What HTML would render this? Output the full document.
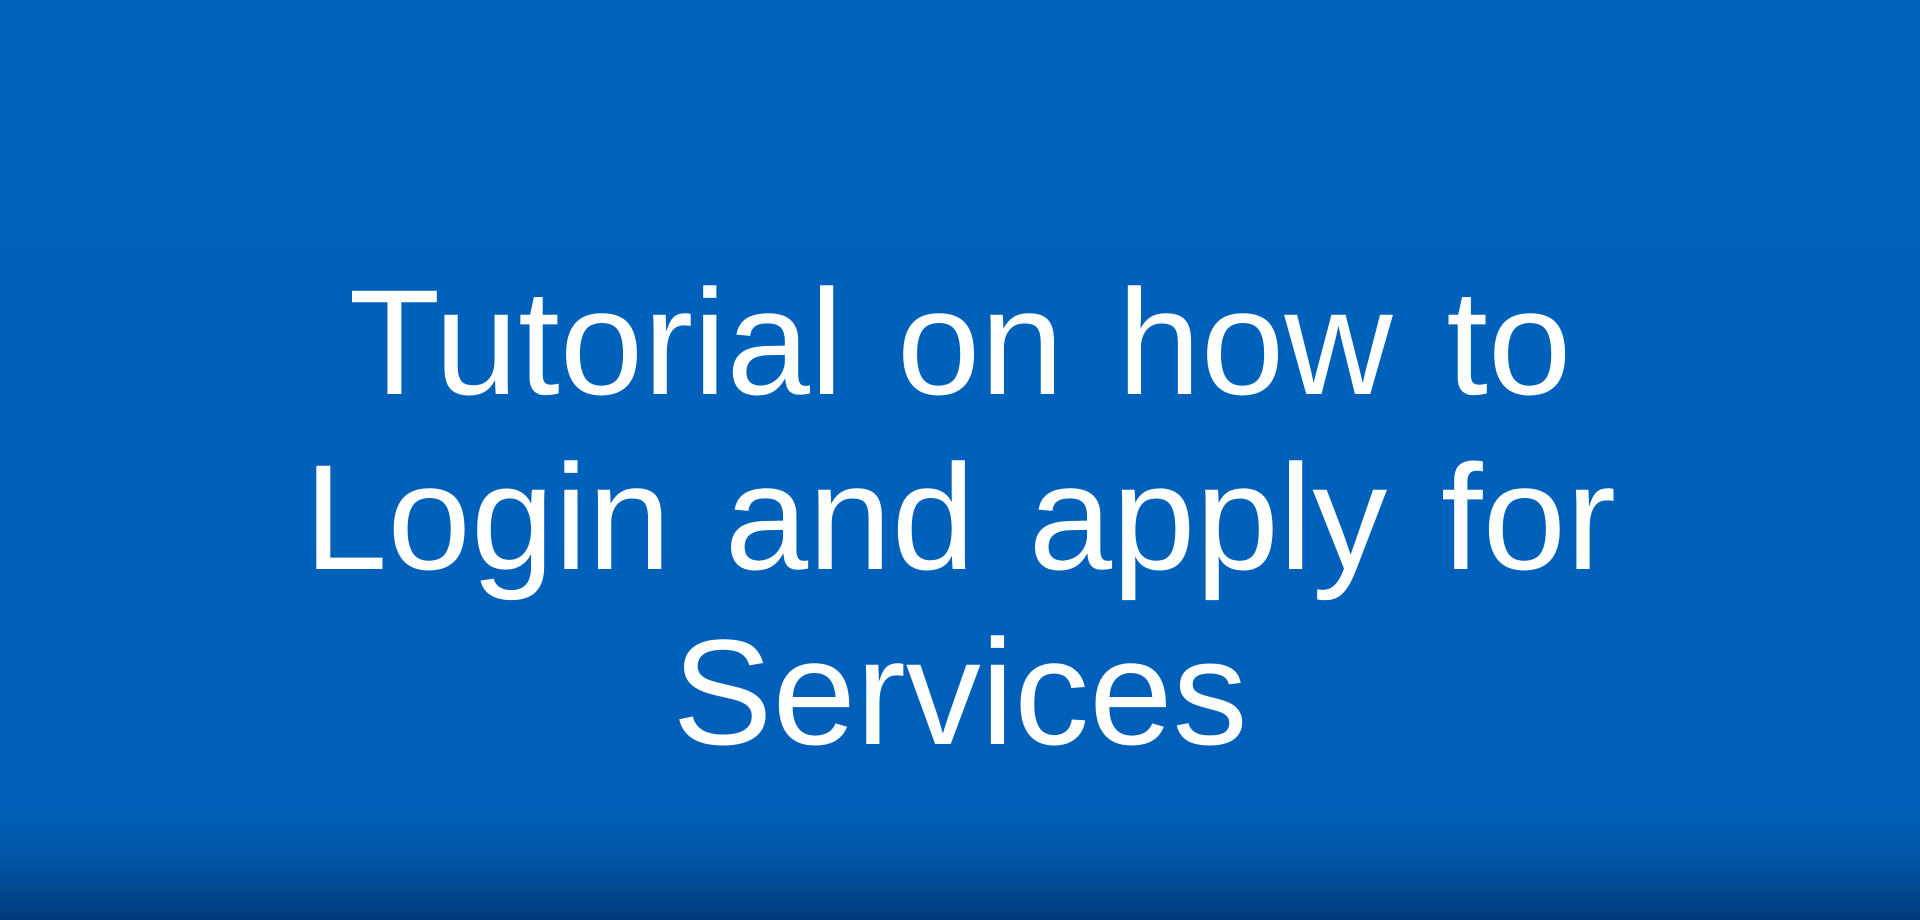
<!DOCTYPE html>
<html><head><meta charset="utf-8"><style>
html,body{margin:0;padding:0;}
body{width:1920px;height:920px;overflow:hidden;position:relative;
background:linear-gradient(to bottom,#0062bb 0px,#0060b9 800px,#0055a6 860px,#003c7a 920px);}
.t{position:absolute;left:0;width:1920px;text-align:center;color:#fff;
font-family:"Liberation Sans",sans-serif;font-size:150px;line-height:1;white-space:nowrap;word-spacing:12px;}
</style></head><body>
<div class="t" style="top:267px;">Tutorial on how to</div>
<div class="t" style="top:442px;">Login and apply for</div>
<div class="t" style="top:617px;">Services</div>
</body></html>
